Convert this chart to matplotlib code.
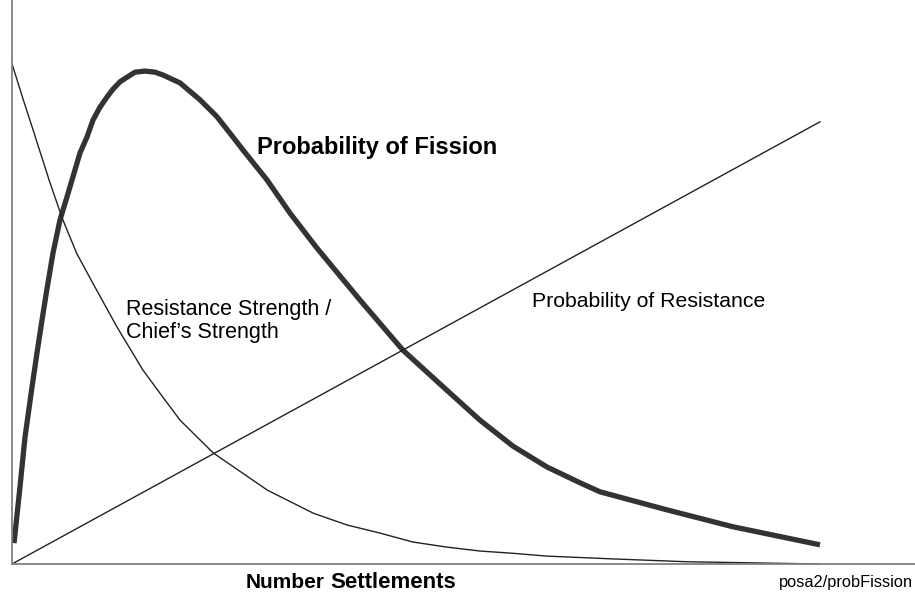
import matplotlib.pyplot as plt

plt.rcParams['font.family'] = ['Liberation Sans', 'DejaVu Sans']

# number of settlements (arbitrary units, 0-100)
fission_x = [0.25, 0.99, 1.61, 2.48, 3.09, 3.71, 4.33, 5.07, 5.94, 6.81, 7.43, 8.42,
             9.28, 10.02, 10.89, 11.76, 12.50, 13.37, 14.23, 15.22, 16.46, 17.70,
             18.69, 20.79, 23.27, 25.37, 27.35, 28.59, 31.56, 34.41, 37.75, 43.07,
             48.39, 54.21, 57.92, 62.00, 66.21, 70.30, 72.77, 81.06, 89.23, 100.0]
fission_y = [0.037, 0.137, 0.225, 0.314, 0.374, 0.432, 0.488, 0.551, 0.610, 0.651,
             0.681, 0.729, 0.757, 0.787, 0.810, 0.828, 0.842, 0.855, 0.863, 0.872,
             0.874, 0.872, 0.867, 0.853, 0.823, 0.793, 0.757, 0.734, 0.681, 0.622,
             0.560, 0.468, 0.379, 0.303, 0.255, 0.209, 0.172, 0.144, 0.128, 0.096,
             0.066, 0.034]

ratio_x = [0.0, 1.4, 2.6, 4.7, 6.3, 8.0, 10.0, 13.0, 16.2, 18.3, 20.8, 24.9, 31.6,
           37.3, 41.5, 45.5, 49.6, 53.8, 57.9, 62.0, 66.2, 74.4, 83.5, 91.7, 100.0]
ratio_y = [0.887, 0.823, 0.770, 0.676, 0.610, 0.551, 0.498, 0.420, 0.344, 0.303,
           0.255, 0.197, 0.131, 0.090, 0.069, 0.055, 0.039, 0.030, 0.023, 0.019,
           0.014, 0.009, 0.004, 0.002, 0.0]

resist_x = [0.0, 100.0]
resist_y = [0.0, 0.784]

fig = plt.figure(figsize=(9.15, 5.97), dpi=100)
ax = fig.add_axes([12 / 915, 33 / 597, 903 / 915, 564 / 597])

ax.plot(fission_x, fission_y, color='#333333', lw=3.8, solid_capstyle='butt',
        solid_joinstyle='round')
ax.plot(ratio_x, ratio_y, color='#222222', lw=1.0)
ax.plot(resist_x, resist_y, color='#222222', lw=1.0)

ax.set_xlim(0, 111.76)
ax.set_ylim(0, 1)
ax.set_xticks([])
ax.set_yticks([])
for side in ['top', 'right']:
    ax.spines[side].set_visible(False)
for side in ['left', 'bottom']:
    ax.spines[side].set_color('#808080')
    ax.spines[side].set_linewidth(1.3)

ax.text(45.2, 0.739, 'Probability of Fission', fontsize=17, fontweight='bold',
        ha='center', va='center')
ax.text(14.1, 0.431, 'Resistance Strength /\nChief\u2019s Strength', fontsize=15.5,
        ha='left', va='center', linespacing=1.1)
ax.text(64.4, 0.466, 'Probability of Resistance', fontsize=15.3, ha='left', va='center')

fig.text(325 / 915, 1 - 583 / 597, 'Number', fontsize=15, fontweight='bold',
         ha='right', va='center')
fig.text(330 / 915, 1 - 583 / 597, 'Settlements', fontsize=16, fontweight='bold',
         ha='left', va='center')
fig.text(779 / 915, 1 - 582 / 597, 'posa2/probFission', fontsize=11.8,
         ha='left', va='center')

fig.savefig('out.png', dpi=100)
